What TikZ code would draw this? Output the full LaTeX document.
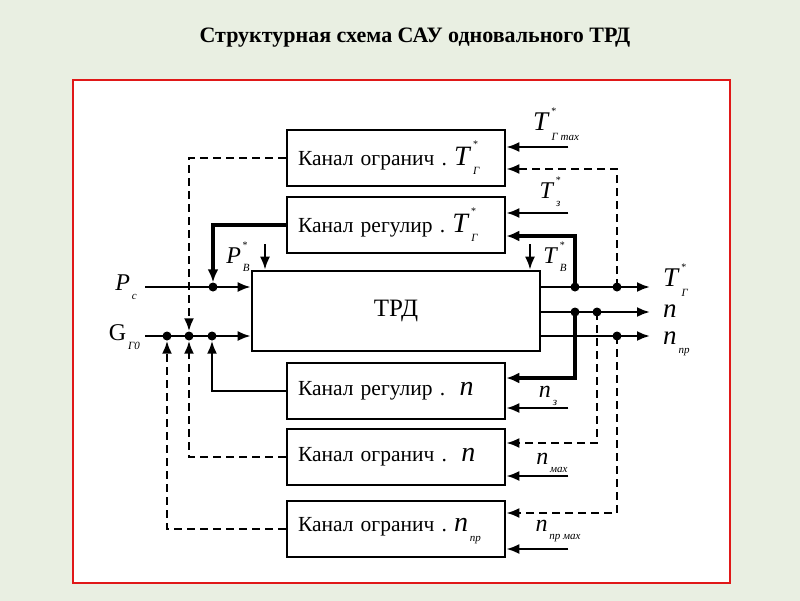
\documentclass[tikz,border=0pt]{standalone}
\usepackage{fontspec}
\setmainfont{Liberation Serif}
\usetikzlibrary{calc,arrows.meta}

\definecolor{bgtop}{HTML}{E9EFE2}
\definecolor{bgmid}{HTML}{D9EAF0}
\definecolor{ramka}{HTML}{E01818}

% letter with subscript and star
\newcommand{\sig}[3]{\textit{#1}\rlap{\raisebox{0.62em}{\fontsize{10}{10}\selectfont\,#3}}\raisebox{-0.35em}{\fontsize{11}{11}\selectfont\itshape\,#2}}

\tikzset{
  blok/.style={draw, line width=2.6pt, fill=white, minimum width=218pt, minimum height=56pt,
    text width=196pt, align=left, inner xsep=11pt, font=\fontsize{21.5}{23}\selectfont},
  trd/.style={draw, line width=2.6pt, fill=white, minimum width=288pt, minimum height=80pt,
    font=\fontsize{25}{27}\selectfont},
  pt/.style={circle, fill, inner sep=0pt, minimum size=9pt},
  sig/.style={line width=2.3pt, -{Latex[length=13pt,width=10pt]}},
  fb/.style={line width=3.4pt, -{Latex[length=13pt,width=11pt]}},
  dsh/.style={line width=2.4pt, -{Latex[length=13pt,width=10pt]}, dash pattern=on 8pt off 5pt},
  big/.style={inner sep=1pt, font=\fontsize{27}{28}\selectfont},
  mid/.style={inner sep=1pt, font=\fontsize{24}{25}\selectfont}
}

\begin{document}
\begin{tikzpicture}[x=1pt,y=-1pt]
\shade[top color=bgtop, middle color=bgmid, bottom color=bgtop] (0,0) rectangle (800,600);
\draw[ramka, line width=2.2pt, fill=white] (73,80) rectangle (730,583);
\node (title) at (415,38) {\fontsize{22}{24}\selectfont\bfseries Структурная схема САУ одновального ТРД};

% blocks
\node[blok] (ogrT) at (396,158) {Канал огранич~.~{\fontsize{28}{28}\selectfont\sig{T}{Г}{*}}};
\node[blok] (regT) at (396,225) {Канал регулир~.~{\fontsize{28}{28}\selectfont\sig{T}{Г}{*}}};
\node[trd] (dvig) at (396,311) {ТРД};
\node[blok] (regn) at (396,391) {Канал регулир~.~~{\fontsize{28}{28}\selectfont\textit{n}}};
\node[blok] (ogrn) at (396,457) {Канал огранич~.~~{\fontsize{28}{28}\selectfont\textit{n}}};
\node[blok] (ogrnp) at (396,529) {Канал огранич~.~{\fontsize{28}{28}\selectfont\sig{n}{пр}{}}};

% inputs on the left
\coordinate (pc) at (145,287);
\coordinate (gt) at (145,336);
\node[pt] (dP) at (213,287) {};
\node[pt] (dG1) at (167,336) {};
\node[pt] (dG2) at (189,336) {};
\node[pt] (dG3) at (212,336) {};
\draw[sig] (pc) -- (pc -| dvig.west);
\draw[sig] (gt) -- (gt -| dvig.west);
\node[mid, anchor=east] (lpc) at (138,287) {\sig{P}{c}{}};
\node[mid, anchor=east] (lgt) at (141,337) {G\raisebox{-0.35em}{\fontsize{11}{11}\selectfont\itshape\,Г0}};

\draw[fb] (regT.west) -| (dP);
\draw[dsh] (ogrT.west) -| (dG2);
\draw[sig] (regn.west) -| (dG3);
\draw[dsh] (ogrn.west) -| (dG2);
\draw[dsh] (ogrnp.west) -| (dG1);

% pressure and temperature into the engine
\coordinate (pb) at (265,244);
\coordinate (tb) at (530,244);
\draw[sig] (pb) -- (pb |- dvig.north);
\draw[sig] (tb) -- (tb |- dvig.north);
\node[mid] (lpb) at (238,257) {\sig{P}{В}{*}};
\node[mid] (ltb) at (555,257) {\sig{T}{В}{*}};

% outputs
\coordinate (oT) at (650,287);
\coordinate (on) at (650,312);
\coordinate (onp) at (650,336);
\draw[sig] (oT -| dvig.east) -- (oT);
\draw[sig] (on -| dvig.east) -- (on);
\draw[sig] (onp -| dvig.east) -- (onp);
\node[big, anchor=west] (loT) at (662,280) {\sig{T}{Г}{*}};
\node[big, anchor=west] (lon) at (662,311) {\textit{n}};
\node[big, anchor=west] (lonp) at (662,342) {\sig{n}{пр}{}};

\node[pt] (dT1) at (575,287) {};
\node[pt] (dT2) at (617,287) {};
\node[pt] (dn1) at (575,312) {};
\node[pt] (dn2) at (597,312) {};
\node[pt] (dnp) at (617,336) {};

% feedback to the channels
\draw[dsh] (dT2.center) |- ($(ogrT.east)+(0,11)$);
\draw[fb] (dT1.center) |- ($(regT.east)+(0,11)$);
\draw[fb] (dn1.center) |- ($(regn.east)+(0,-13)$);
\draw[dsh] (dn2.center) |- ($(ogrn.east)+(0,-14)$);
\draw[dsh] (dnp.center) |- ($(ogrnp.east)+(0,-16)$);

% set values
\coordinate (tgmax) at ($(ogrT.east)+(62,-11)$);
\coordinate (tz) at ($(regT.east)+(62,-12)$);
\coordinate (nz) at ($(regn.east)+(62,17)$);
\coordinate (nmax) at ($(ogrn.east)+(62,19)$);
\coordinate (npmax) at ($(ogrnp.east)+(62,20)$);
\draw[sig] (tgmax) -- (tgmax -| ogrT.east);
\draw[sig] (tz) -- (tz -| regT.east);
\draw[sig] (nz) -- (nz -| regn.east);
\draw[sig] (nmax) -- (nmax -| ogrn.east);
\draw[sig] (npmax) -- (npmax -| ogrnp.east);
\node[big] (ltgmax) at (556,124) {\sig{T}{Г max}{*}};
\node[mid] (ltz) at (550,192) {\sig{T}{з}{*}};
\node[mid] (lnz) at (548,394) {\sig{n}{з}{}};
\node[mid] (lnmax) at (552,461) {\sig{n}{мах}{}};
\node[mid] (lnpmax) at (558,529) {\sig{n}{пр мах}{}};
\end{tikzpicture}
\end{document}
